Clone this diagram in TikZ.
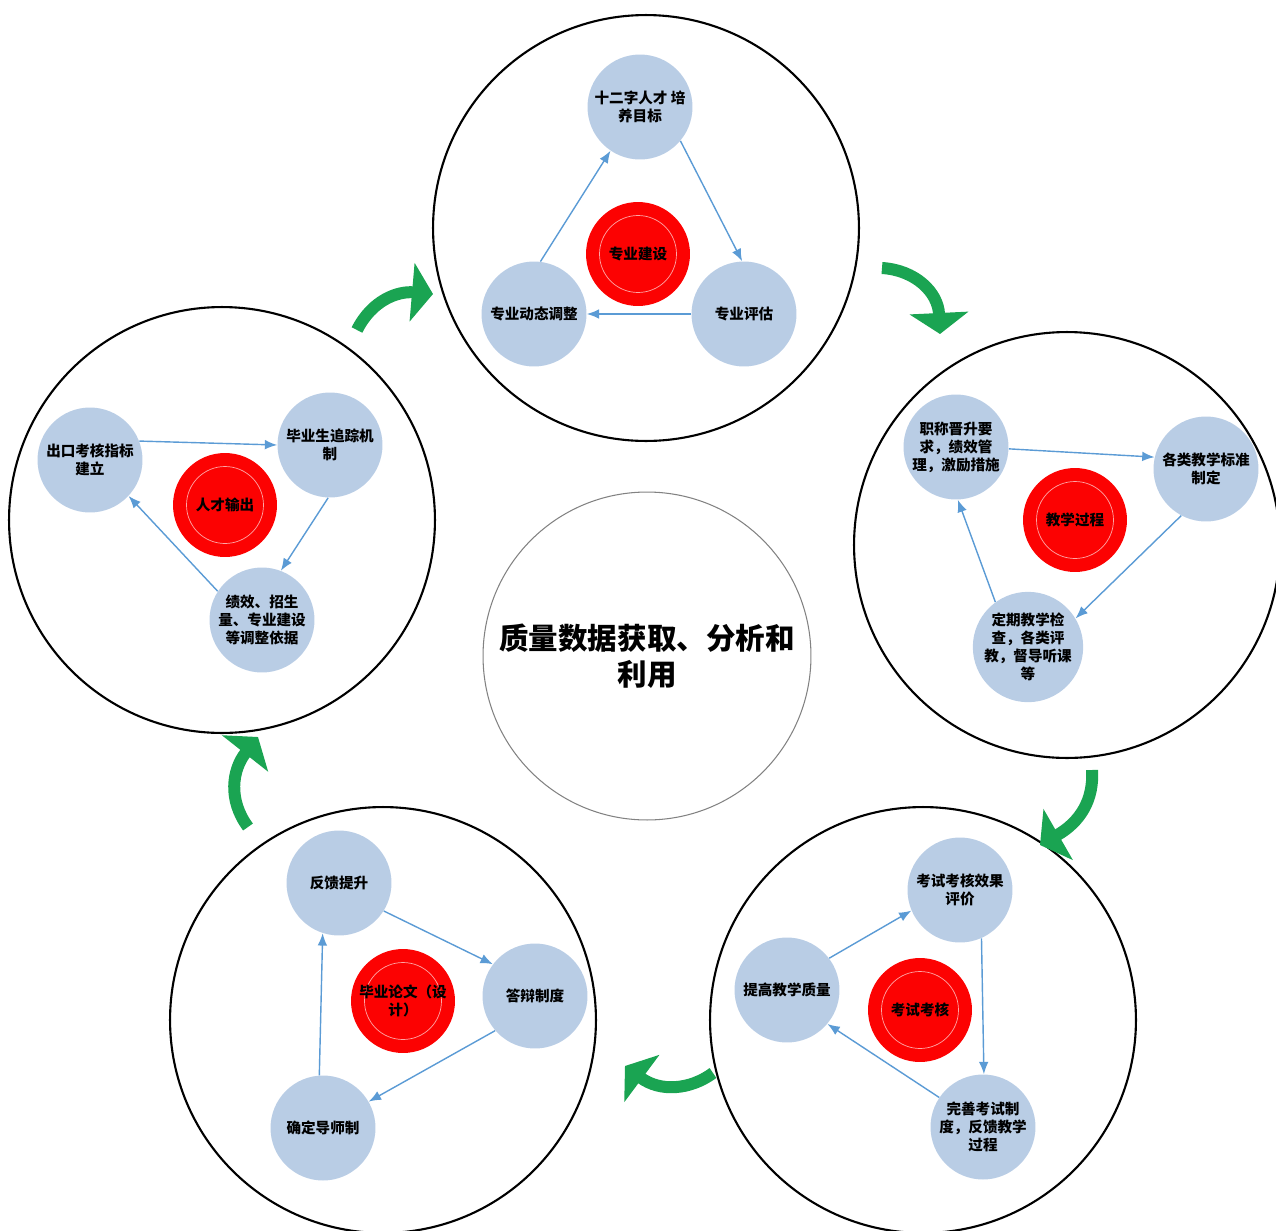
\documentclass[tikz,border=0pt]{standalone}
\usepackage{fontspec}
\setmainfont{Noto Sans CJK SC}
\usetikzlibrary{arrows.meta}
\definecolor{subblue}{RGB}{185,205,229}
\definecolor{linkblue}{RGB}{91,155,213}
\definecolor{turngreen}{RGB}{26,164,82}
\definecolor{corered}{RGB}{252,2,2}
\definecolor{hubgray}{RGB}{130,130,130}

\begin{document}
\begin{tikzpicture}[x=0.02cm,y=-0.02cm,
	stage/.style={circle,draw=black,line width=1.2pt,minimum size=8.52cm,inner sep=0pt},
	sub/.style={circle,fill=subblue,minimum size=2.1cm,inner sep=0pt,align=center,
		font=\bfseries\fontsize{8.3}{10.2}\selectfont},
	core/.style={circle,fill=corered,minimum size=2.08cm,inner sep=0pt,align=center,
		font=\bfseries\fontsize{8.3}{10.2}\selectfont,
		path picture={\draw[red!35!white,line width=0.4pt] (path picture bounding box.center) circle[radius=0.77cm];}},
	link/.style={linkblue,line width=0.8pt,-{Latex[length=7pt,width=5.5pt]}},
	turn/.style={turngreen,line width=0.24cm,-{Triangle[length=0.42cm,width=1.16cm]}}]
	
	\useasboundingbox (0,0) rectangle (1276,1231);
	
	% the five big rings and the hub
	\node[stage] (sTop) at (646,228) {};
	\node[stage] (sRight) at (1067,545) {};
	\node[stage] (sLowRight) at (923,1020) {};
	\node[stage] (sLowLeft) at (383,1020) {};
	\node[stage] (sLeft) at (222,520) {};
	\node[circle,draw=hubgray,line width=0.6pt,minimum size=6.56cm,inner sep=0pt,align=center,
		font=\bfseries\fontsize{16.8}{20.5}\selectfont] (hub) at (647,656) {质量数据获取、分析和\\利用};
	
	% top ring
	\node[core] (tc) at (638,254) {专业建设};
	\node[sub] (t1) at (640,107) {十二字人才 培\\养目标};
	\node[sub] (t2) at (534,314) {专业动态调整};
	\node[sub] (t3) at (744,314) {专业评估};
	\draw[link] (t2.83) -- (t1.236);
	\draw[link] (t1.-40) -- (t3.92);
	\draw[link] (t3.180) -- (t2.0);
	
	% right ring
	\node[core] (rc) at (1075,520) {教学过程};
	\node[sub] (r1) at (956,447) {职称晋升要\\求，绩效管\\理，激励措施};
	\node[sub] (r2) at (1206,469) {各类教学标准\\制定};
	\node[sub] (r3) at (1028,647) {定期教学检\\查，各类评\\教，督导听课\\等};
	\draw[link] (r1.-2) -- (r2.167);
	\draw[link] (r2.242) -- (r3.31);
	\draw[link] (r3.126) -- (r1.272);
	
	% lower right ring
	\node[core] (bc) at (920,1010) {考试考核};
	\node[sub] (b1) at (960,890) {考试考核效果\\评价};
	\node[sub] (b2) at (787,990) {提高教学质量};
	\node[sub] (b3) at (983,1127) {完善考试制\\度，反馈教学\\过程};
	\draw[link] (b2.37) -- (b1.203);
	\draw[link] (b1.-66) -- (b3.89);
	\draw[link] (b3.146) -- (b2.-40);
	
	% lower left ring
	\node[core] (lc) at (403,1001) {毕业论文（设\\计）};
	\node[sub] (l1) at (339,883) {反馈提升};
	\node[sub] (l2) at (535,996) {答辩制度};
	\node[sub] (l3) at (323,1128) {确定导师制};
	\draw[link] (l1.-32) -- (l2.143);
	\draw[link] (l2.221) -- (l3.30);
	\draw[link] (l3.94) -- (l1.252);
	
	% left ring
	\node[core] (ec) at (225,505) {人才输出};
	\node[sub] (e1) at (90,460) {出口考核指标\\建立};
	\node[sub] (e2) at (330,445) {毕业生追踪机\\制};
	\node[sub] (e3) at (262,620) {绩效、招生\\量、专业建设\\等调整依据};
	\draw[link] (e1.21) -- (e2.180);
	\draw[link] (e2.268) -- (e3.69);
	\draw[link] (e3.147) -- (e1.-43);
	
	% green turns between the rings
	\coordinate (g1a) at (357,330);
	\coordinate (g1b) at (433,294);
	\coordinate (g2a) at (882,268);
	\coordinate (g2b) at (940,334);
	\coordinate (g3a) at (1092,770);
	\coordinate (g3b) at (1040,845);
	\coordinate (g4a) at (713,1073);
	\coordinate (g4b) at (625,1066);
	\coordinate (g5a) at (248,827);
	\coordinate (g5b) at (258,737);
	\draw[turn] (g1a) .. controls (372,300) and (398,291) .. (g1b);
	\draw[turn] (g2a) .. controls (915,270) and (938,292) .. (g2b);
	\draw[turn] (g3a) .. controls (1094,800) and (1080,822) .. (g3b);
	\draw[turn] (g4a) .. controls (690,1090) and (660,1092) .. (g4b);
	\draw[turn] (g5a) .. controls (228,800) and (232,770) .. (g5b);
	
\end{tikzpicture}
\end{document}
